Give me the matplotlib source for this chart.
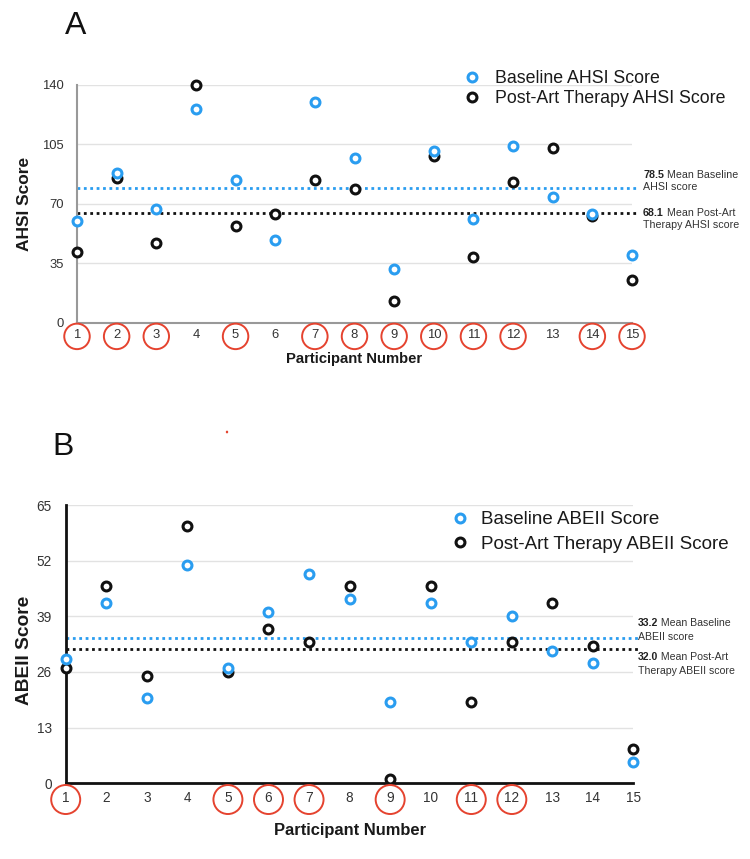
import matplotlib
matplotlib.use("Agg")
import matplotlib.pyplot as plt
from matplotlib.patches import Circle

plt.rcParams['font.family'] = ['Liberation Sans', 'DejaVu Sans']

# ---------------- data ----------------
participants = list(range(1, 16))

ahsi_baseline = [60, 88, 67, 126, 84, 49, 130, 97, 32, 101, 61, 104, 74, 64, 40]
ahsi_post = [42, 85, 47, 140, 57, 64, 84, 79, 13, 98, 39, 83, 103, 63, 25]
ahsi_mean_values = [78.5, 68.1]        # printed means
ahsi_mean_lines = [79.2, 64.7]         # where the dotted lines are drawn
ahsi_yticks = [0, 35, 70, 105, 140]
ahsi_circled = [1, 2, 3, 5, 7, 8, 9, 10, 11, 12, 14, 15]

abeii_baseline = [29, 42, 20, 51, 27, 40, 49, 43, 19, 42, 33, 39, 31, 28, 5]
abeii_post = [27, 46, 25, 60, 26, 36, 33, 46, 1, 46, 19, 33, 42, 32, 8]
abeii_mean_values = [33.2, 32.0]
abeii_mean_lines = [33.9, 31.4]
abeii_yticks = [0, 13, 26, 39, 52, 65]
abeii_circled = [1, 5, 6, 7, 9, 11, 12]

BLUE = '#2A9DF0'
BLACK = '#111111'
RED = '#E5432F'

W, H = 750, 859
fig = plt.figure(figsize=(W / 100, H / 100), dpi=100)


def fx(px):
    return px / W


def fy(py):
    return 1 - py / H


def panel(rect_px, base, post, yticks, mean_lines, mean_vals, circled, score,
          spine_col, spine_lw, tick_fs, ytick_pad, xtick_pad, circ_px,
          leg_xy, leg_fs, leg_pad, leg_space, txt_x, txt_rows, txt_fs, txt_gap):
    l, t, r, b = rect_px
    ax = fig.add_axes([fx(l), fy(b), fx(r - l), (b - t) / H])
    ax.set_xlim(1, 15)
    ax.set_ylim(yticks[0], yticks[-1])
    ax.set_yticks(yticks)
    ax.set_xticks(participants)
    for s in ['top', 'right']:
        ax.spines[s].set_visible(False)
    for s in ['left', 'bottom']:
        ax.spines[s].set_color(spine_col)
        ax.spines[s].set_linewidth(spine_lw)
        ax.spines[s].set_zorder(2)
    ax.grid(axis='y', color='#e2e2e2', lw=1.0, zorder=0)
    ax.set_axisbelow(True)
    ax.tick_params(axis='both', length=0, labelsize=tick_fs, labelcolor='#333333')
    ax.tick_params(axis='y', pad=ytick_pad)
    ax.tick_params(axis='x', pad=xtick_pad)

    # mean lines
    for yv, col in zip(mean_lines, [BLUE, BLACK]):
        ax.plot([1, 15.15], [yv, yv], ls=(0, (1, 1.3)), lw=2.0, color=col,
                clip_on=False, zorder=1.5)

    hp, = ax.plot(participants, post, ls='none', marker='o', ms=6.4, mew=2.2,
                  mfc='white', mec=BLACK, clip_on=False, zorder=3)
    hb, = ax.plot(participants, base, ls='none', marker='o', ms=6.4, mew=2.2,
                  mfc='white', mec=BLUE, clip_on=False, zorder=4)

    # red circles around x tick labels
    trans = ax.get_xaxis_transform()
    cy = -(xtick_pad / 0.72 + tick_fs / 0.72 * 0.6) / (b - t)
    ax.scatter(circled, [cy] * len(circled), transform=trans, s=(circ_px * 0.72) ** 2,
               facecolors='none', edgecolors=RED, linewidths=1.4, clip_on=False, zorder=5)

    leg = ax.legend([hb, hp], [f'Baseline {score} Score', f'Post-Art Therapy {score} Score'],
                    loc='upper left', bbox_to_anchor=(fx(leg_xy[0]), fy(leg_xy[1])),
                    bbox_transform=fig.transFigure, frameon=False, borderpad=0,
                    borderaxespad=0, handlelength=1.0, handletextpad=leg_pad,
                    labelspacing=leg_space, fontsize=leg_fs)
    for txt in leg.get_texts():
        txt.set_color('#1a1a1a')

    # mean annotations
    rows = [(f'{mean_vals[0]:.1f}', ' Mean Baseline', f'{score} score'),
            (f'{mean_vals[1]:.1f}', ' Mean Post-Art', f'Therapy {score} score')]
    for (bold, rest, line2), ypx in zip(rows, txt_rows):
        t1 = fig.text(fx(txt_x), fy(ypx), bold, fontsize=txt_fs, fontweight='bold',
                      ha='left', va='center', color='#222222')
        ax.annotate(rest, xy=(1, 0.5), xycoords=t1, ha='left', va='center',
                    fontsize=txt_fs, color='#333333', annotation_clip=False)
        fig.text(fx(txt_x), fy(ypx + txt_gap), line2, fontsize=txt_fs,
                 ha='left', va='center', color='#333333')
    return ax


axA = panel((77, 84.7, 632, 323), ahsi_baseline, ahsi_post, ahsi_yticks,
            ahsi_mean_lines, ahsi_mean_values, ahsi_circled, 'AHSI',
            '#999999', 1.5, 9.4, 9.4, 4.0, 25.5,
            (463, 70), 12.8, 0.8, 0.16, 643, (175, 213), 7.7, 12)
axB = panel((65.7, 505, 633.5, 783.3), abeii_baseline, abeii_post, abeii_yticks,
            abeii_mean_lines, abeii_mean_values, abeii_circled, 'ABEII',
            '#111111', 2.0, 9.8, 9.9, 5.8, 29,
            (450.6, 511), 13.5, 0.62, 0.41, 638, (623, 657), 7.6, 14)

# axis titles
fig.text(fx(25), fy(204), 'AHSI Score', rotation=90, ha='center', va='center',
         fontsize=12.5, fontweight='bold', color='#1a1a1a')
fig.text(fx(25), fy(650), 'ABEII Score', rotation=90, ha='center', va='center',
         fontsize=13.8, fontweight='bold', color='#1a1a1a')
fig.text(fx(354), fy(359), 'Participant Number', ha='center', va='center',
         fontsize=10.7, fontweight='bold', color='#1a1a1a')
fig.text(fx(350), fy(830), 'Participant Number', ha='center', va='center',
         fontsize=11.9, fontweight='bold', color='#1a1a1a')

# panel letters
fig.text(fx(76), fy(26), 'A', ha='center', va='center', fontsize=23, color='#111111')
fig.text(fx(63), fy(447), 'B', ha='center', va='center', fontsize=23, color='#111111')

# small red speck present in the original
fig.add_artist(Circle((fx(227), fy(432)), 0.0016, transform=fig.transFigure,
                      color=RED, lw=0))

fig.savefig('out.png', dpi=100)
